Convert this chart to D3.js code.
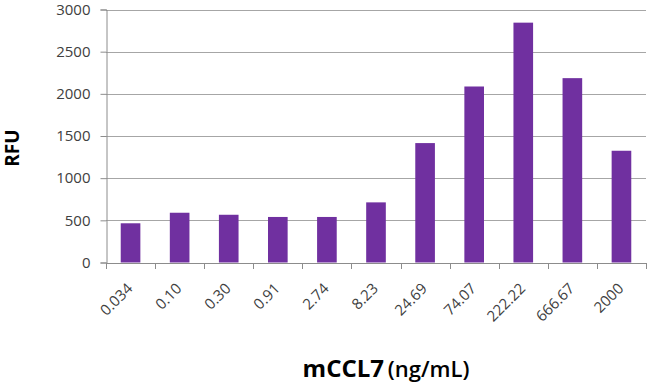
<!DOCTYPE html>
<html>
<head>
<meta charset="utf-8">
<script src="https://cdn.jsdelivr.net/npm/d3@7"></script>
<style>
  html, body { margin: 0; padding: 0; background: #fff; }
  svg { display: block; }
</style>
</head>
<body>
<svg id="chart" width="650" height="384"></svg>
<script>
const categories = ["0.034", "0.10", "0.30", "0.91", "2.74", "8.23", "24.69", "74.07", "222.22", "666.67", "2000"];
const values = [465, 590, 566, 540, 540, 713, 1416, 2087, 2844, 2186, 1325];
const yTicks = [0, 500, 1000, 1500, 2000, 2500, 3000];

const svg = d3.select("#chart");
const margin = { left: 106, right: 4, top: 9.5, bottom: 121.5 };
const W = 650, H = 384;
const font = "'Open Sans', sans-serif";

const x = d3.scaleBand().domain(categories).range([margin.left, W - margin.right]).paddingInner(0.6).paddingOuter(0.3);
const y = d3.scaleLinear().domain([0, 3000]).range([H - margin.bottom, margin.top]);

// gridlines
svg.append("g").selectAll("line").data(yTicks.filter(d => d > 0)).join("line")
  .attr("x1", margin.left).attr("x2", W - margin.right)
  .attr("y1", d => Math.round(y(d)) + 0.5).attr("y2", d => Math.round(y(d)) + 0.5)
  .attr("stroke", "#a6a6a6").attr("stroke-width", 1);

// bars
svg.append("g").selectAll("rect").data(values).join("rect")
  .attr("x", (d, i) => x(categories[i]))
  .attr("width", x.bandwidth())
  .attr("y", d => y(d))
  .attr("height", d => y(0) - y(d))
  .attr("fill", "#7030A0");

// y axis
const yAxis = svg.append("g")
  .attr("transform", `translate(${margin.left + 0.5},0)`)
  .call(d3.axisLeft(y).tickValues(yTicks).tickFormat(d3.format("d")).tickSizeOuter(0).tickSize(6).tickPadding(10));
yAxis.select(".domain").attr("stroke", "#8c8c8c");
yAxis.selectAll(".tick line").attr("stroke", "#8c8c8c");
yAxis.selectAll("text").attr("font-family", font).attr("font-size", 15).attr("fill", "#404040");

// x axis line and ticks at category boundaries
const boundaries = d3.range(categories.length + 1).map(i => margin.left + i * (W - margin.right - margin.left) / categories.length);
const gx = svg.append("g");
gx.append("line")
  .attr("x1", margin.left).attr("x2", W - margin.right)
  .attr("y1", Math.round(y(0)) + 0.5).attr("y2", Math.round(y(0)) + 0.5)
  .attr("stroke", "#8c8c8c");
gx.selectAll("line.tk").data(boundaries).join("line").attr("class", "tk")
  .attr("x1", d => Math.round(d) + 0.5).attr("x2", d => Math.round(d) + 0.5)
  .attr("y1", Math.round(y(0))).attr("y2", Math.round(y(0)) + 6)
  .attr("stroke", "#8c8c8c");

// x labels rotated
gx.selectAll("text").data(categories).join("text")
  .attr("transform", d => `translate(${x(d) + x.bandwidth() / 2 + 3},${y(0) + 27}) rotate(-45)`)
  .attr("text-anchor", "end")
  .attr("font-family", font).attr("font-size", 15).attr("fill", "#404040")
  .text(d => d);

// x title
const xt = svg.append("text")
  .attr("x", 386).attr("y", 377)
  .attr("text-anchor", "middle")
  .attr("font-family", font).attr("font-size", 22).attr("fill", "#000");
xt.append("tspan").attr("font-weight", "bold").attr("font-size", 24).text("mCCL7");
xt.append("tspan").attr("font-weight", 600).attr("dx", -2).text(" (ng/mL)");

// y title
svg.append("text")
  .attr("transform", "translate(19,148) rotate(-90)")
  .attr("text-anchor", "middle")
  .attr("font-family", font).attr("font-size", 19).attr("font-weight", "bold").attr("fill", "#000")
  .text("RFU");
</script>
</body>
</html>
